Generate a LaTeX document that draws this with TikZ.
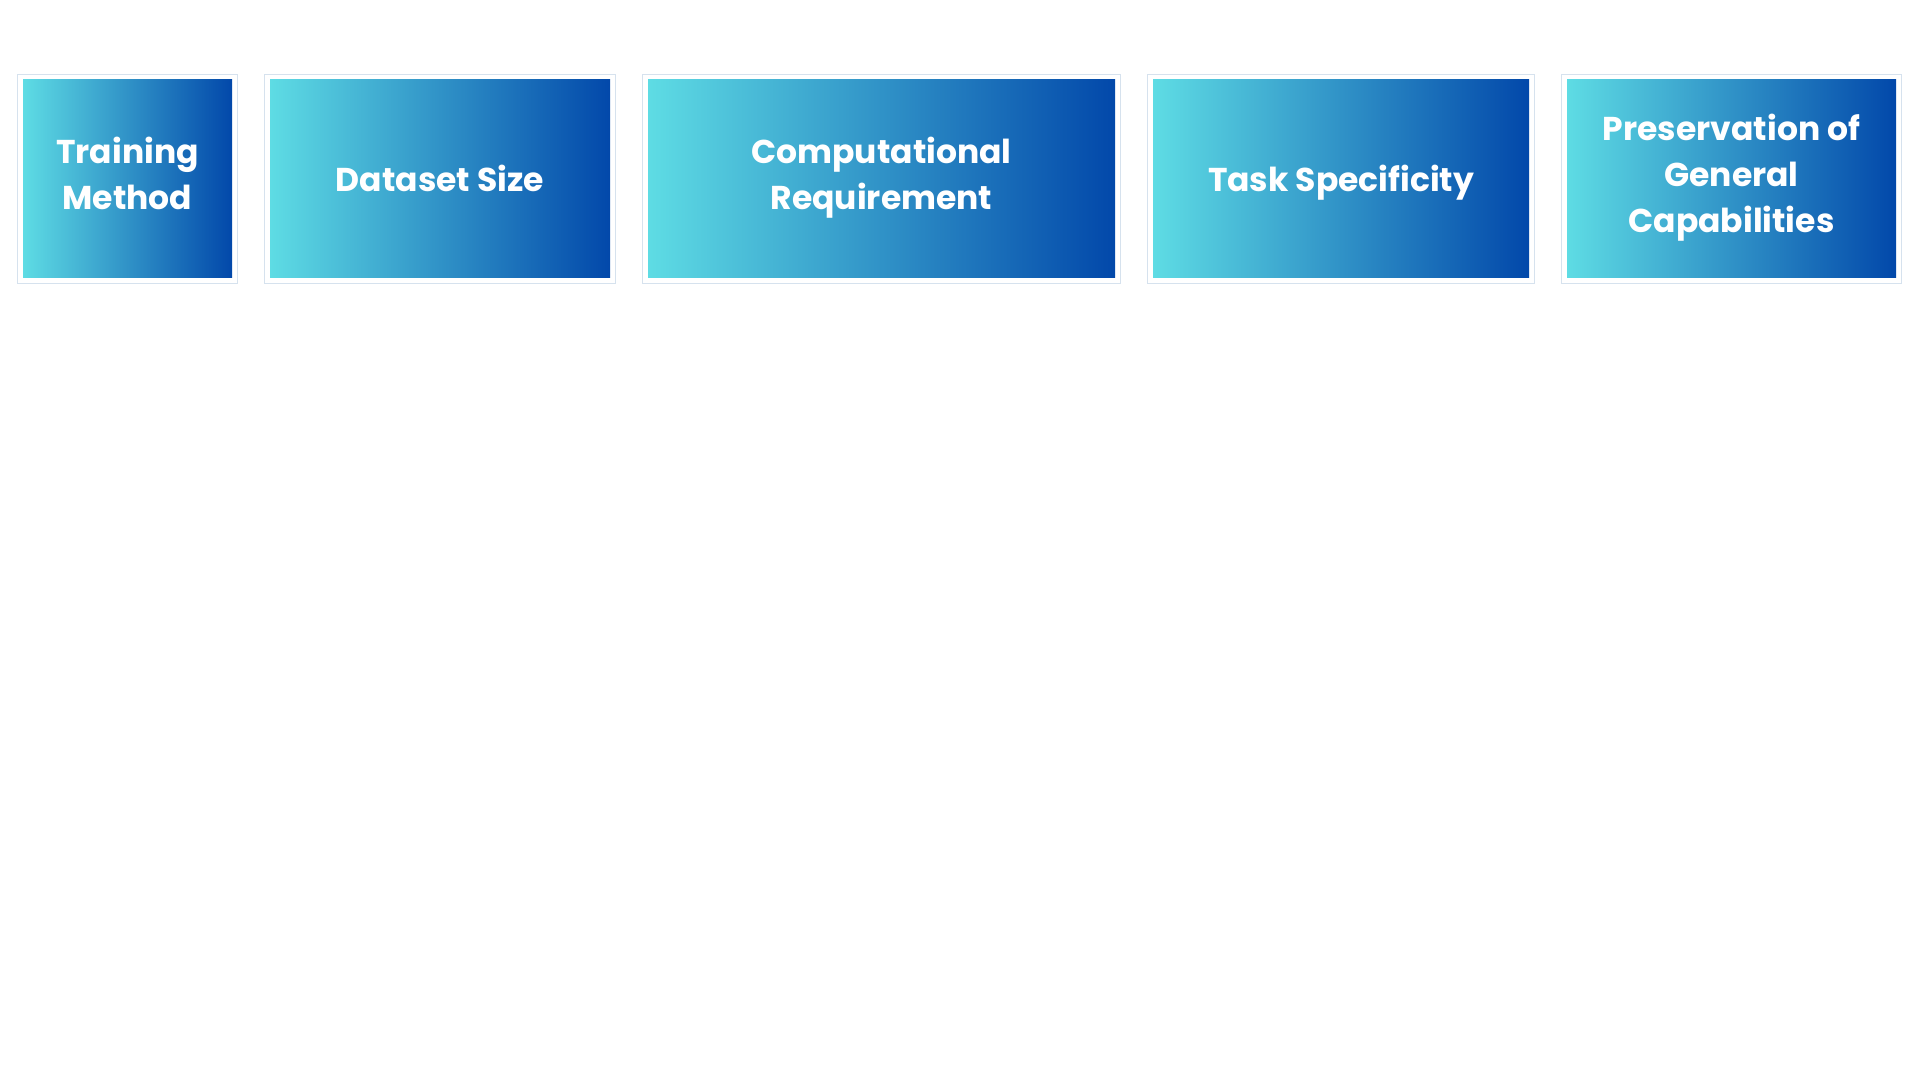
\documentclass[tikz,border=0pt]{standalone}
\usepackage{fontspec}
\setmainfont{Poppins}
\usepackage{tikz}
\usetikzlibrary{positioning,fit,backgrounds}
\definecolor{gradcyan}{RGB}{94,220,228}
\definecolor{gradblue}{RGB}{2,72,170}
\definecolor{cardline}{RGB}{214,226,238}
\newcommand{\capstrut}{\rule[-6pt]{0pt}{24.5pt}}
\tikzset{
  factor/.style ={rectangle, inner sep=0pt, minimum height=99pt,
                  left color=gradcyan, right color=gradblue,
                  text=white, align=center, font=\fontsize{16.5}{23}\selectfont\bfseries,
                  execute at begin node=\capstrut, execute at end node=\capstrut},
  card/.style   ={rectangle, draw=cardline, line width=0.6pt, fill=white, inner sep=2.5pt},
}

\begin{document}
\begin{tikzpicture}[node distance=18.6pt]
\useasboundingbox (0,0) rectangle (960pt,-540pt);

% factors
\node[factor, minimum width=104.5pt] (method) at (63.75pt,-89.5pt) {Training\\ Method};
\node[factor, minimum width=170pt, right=of method]  (dataset) {Dataset Size};
\node[factor, minimum width=233.5pt, right=of dataset] (compute) {Computational\\ Requirement};
\node[factor, minimum width=188pt, right=of compute] (task)  {Task Specificity};
\node[factor, minimum width=164.5pt, right=of task]   (general) {Preservation of\\ General\\ Capabilities};

\begin{scope}[on background layer]
  \foreach \n in {method,dataset,compute,task,general}
    \node[card, fit=(\n)] {};
\end{scope}
\end{tikzpicture}
\end{document}
